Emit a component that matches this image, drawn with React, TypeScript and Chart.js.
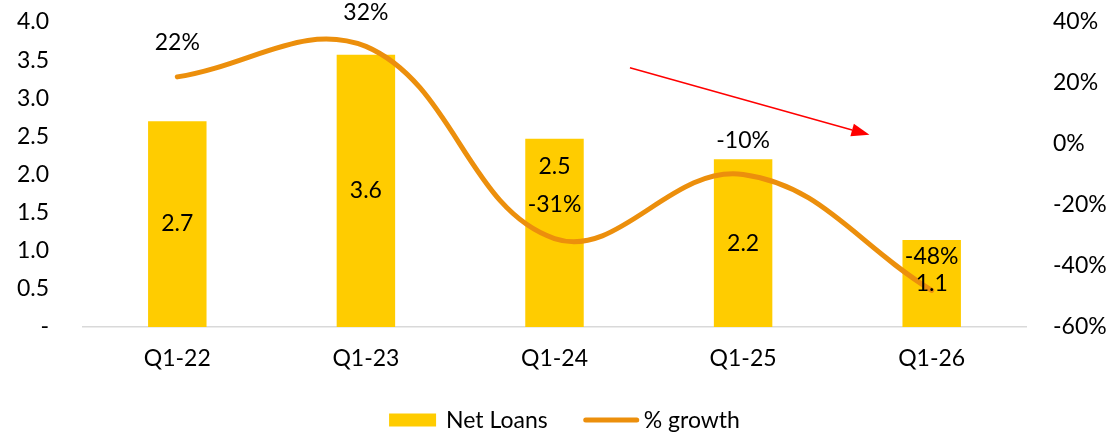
import React, { useEffect, useRef } from "react";
import { Chart, registerables } from "chart.js";

Chart.register(...registerables);

const categories = ["Q1-22", "Q1-23", "Q1-24", "Q1-25", "Q1-26"];
const netLoans = [2.7, 3.57, 2.47, 2.2, 1.14];
const netLoanLabels = ["2.7", "3.6", "2.5", "2.2", "1.1"];
const growth = [22, 32, -31, -10, -48];
const seriesNames = ["Net Loans", "% growth"];
const arrowFrom = { x: 2.4, y: 25 };
const arrowTo = { x: 3.67, y: 3 };

const FONT = "Lato";
const FS = 23;
const BAR_COLOR = "#FFCC00";
const LINE_COLOR = "#EC8F0C";

const labelPlugin = {
  id: "labels",
  afterDatasetsDraw(chart: any) {
    const ctx = chart.ctx;
    ctx.save();
    ctx.font = `${FS}px ${FONT}`;
    ctx.fillStyle = "#000";
    ctx.textAlign = "center";
    ctx.textBaseline = "middle";
    const barMeta = chart.getDatasetMeta(0);
    barMeta.data.forEach((bar: any, i: number) => {
      const y = i === 2 ? bar.y + 28 : (bar.y + bar.base) / 2;
      ctx.fillText(netLoanLabels[i], bar.x, y);
    });
    const lineMeta = chart.getDatasetMeta(1);
    lineMeta.data.forEach((pt: any, i: number) => {
      ctx.fillText(`${growth[i]}%`, pt.x, pt.y - 34);
    });

    // red trend arrow
    const xs = chart.scales.x;
    const ys = chart.scales.y1;
    const x1 = xs.getPixelForValue(arrowFrom.x);
    const y1 = ys.getPixelForValue(arrowFrom.y);
    const x2 = xs.getPixelForValue(arrowTo.x);
    const y2 = ys.getPixelForValue(arrowTo.y);
    const ang = Math.atan2(y2 - y1, x2 - x1);
    const headLen = 18;
    const headW = 6.5;
    const bx = x2 - headLen * Math.cos(ang);
    const by = y2 - headLen * Math.sin(ang);
    ctx.strokeStyle = "#FF0000";
    ctx.fillStyle = "#FF0000";
    ctx.lineWidth = 1.5;
    ctx.beginPath();
    ctx.moveTo(x1, y1);
    ctx.lineTo(bx, by);
    ctx.stroke();
    ctx.beginPath();
    ctx.moveTo(x2, y2);
    ctx.lineTo(bx + headW * Math.sin(ang), by - headW * Math.cos(ang));
    ctx.lineTo(bx - headW * Math.sin(ang), by + headW * Math.cos(ang));
    ctx.closePath();
    ctx.fill();
    ctx.restore();
  },
};

const legendPlugin = {
  id: "customLegend",
  afterDraw(chart: any) {
    const ctx = chart.ctx;
    ctx.save();
    ctx.font = `${FS}px ${FONT}`;
    ctx.textBaseline = "middle";
    ctx.textAlign = "left";
    const boxW = 47;
    const lineW = 55;
    const gapText = 10;
    const gapItem = 36;
    const w0 = ctx.measureText(seriesNames[0]).width;
    const w1 = ctx.measureText(seriesNames[1]).width;
    const total = boxW + gapText + w0 + gapItem + lineW + 5 + w1;
    let x = chart.width / 2 + 9 - total / 2;
    const cy = 420;
    ctx.fillStyle = BAR_COLOR;
    ctx.fillRect(x, cy - 6.5, boxW, 13);
    x += boxW + gapText;
    ctx.fillStyle = "#000";
    ctx.fillText(seriesNames[0], x, cy + 1);
    x += w0 + gapItem;
    ctx.strokeStyle = LINE_COLOR;
    ctx.lineWidth = 5;
    ctx.lineCap = "round";
    ctx.beginPath();
    ctx.moveTo(x + 2, cy);
    ctx.lineTo(x + lineW - 2, cy);
    ctx.stroke();
    x += lineW + 5;
    ctx.fillText(seriesNames[1], x, cy + 1);
    ctx.restore();
  },
};

export default function App() {
  const ref = useRef<HTMLCanvasElement>(null);
  useEffect(() => {
    document.body.style.margin = "0";
    const chart = new Chart(ref.current!, {
      type: "bar",
      data: {
        labels: categories,
        datasets: [
          {
            type: "bar",
            label: seriesNames[0],
            data: netLoans,
            backgroundColor: BAR_COLOR,
            borderWidth: 0,
            barPercentage: 0.62,
            categoryPercentage: 0.5,
            yAxisID: "y",
            order: 1,
          } as any,
          {
            type: "line",
            label: seriesNames[1],
            data: growth,
            borderColor: LINE_COLOR,
            backgroundColor: LINE_COLOR,
            borderWidth: 5,
            borderCapStyle: "round",
            tension: 0.4,
            pointRadius: 0,
            yAxisID: "y1",
            order: 0,
          } as any,
        ],
      },
      options: {
        responsive: false,
        animation: false,
        layout: { padding: { top: 22, bottom: 65, left: 0, right: 0 } },
        plugins: {
          legend: { display: false },
          tooltip: { enabled: false },
        },
        scales: {
          x: {
            grid: { display: false, drawTicks: false },
            border: { display: true, color: "#D9D9D9", width: 1.5 },
            ticks: { color: "#000", font: { family: FONT, size: FS }, padding: 18 },
            afterFit: (s: any) => {
              s.height = 48;
            },
          },
          y: {
            position: "left",
            min: 0,
            max: 4,
            grid: { display: false, drawTicks: false },
            border: { display: false },
            ticks: {
              stepSize: 0.5,
              color: "#000",
              padding: 34,
              font: { family: FONT, size: FS },
              callback: (v: any) => (Number(v) === 0 ? "-" : Number(v).toFixed(1)),
            },
            afterFit: (s: any) => {
              s.width = 83;
              s.paddingTop = 0;
              s.paddingBottom = 0;
            },
          },
          y1: {
            position: "right",
            min: -60,
            max: 40,
            grid: { display: false, drawTicks: false },
            border: { display: false },
            ticks: {
              stepSize: 20,
              color: "#000",
              padding: 27,
              font: { family: FONT, size: FS },
              callback: (v: any) => `${v}%`,
            },
            afterFit: (s: any) => {
              s.width = 85;
              s.paddingTop = 0;
              s.paddingBottom = 0;
            },
          },
        },
      },
      plugins: [labelPlugin, legendPlugin],
    });
    return () => chart.destroy();
  }, []);
  return <canvas ref={ref} width={1111} height={440} />;
}
